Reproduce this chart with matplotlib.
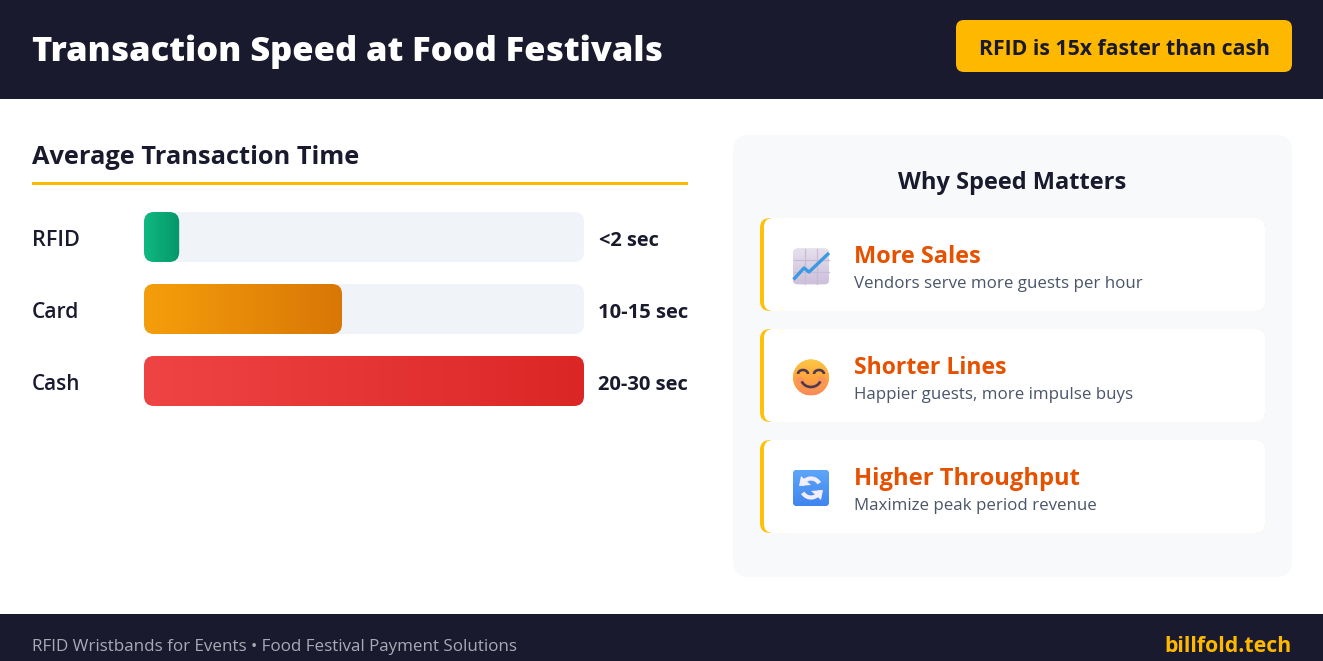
import numpy as np
import matplotlib
matplotlib.use('Agg')
import matplotlib.pyplot as plt
from matplotlib.patches import FancyBboxPatch, Rectangle, Circle, Polygon, Arc
from matplotlib.colors import LinearSegmentedColormap

W, H = 1323, 661
FONT = ['Open Sans', 'DejaVu Sans']

title = 'Transaction Speed at Food Festivals'
badge = 'RFID is 15x faster than cash'
section = 'Average Transaction Time'
side_title = 'Why Speed Matters'
footer_left = 'RFID Wristbands for Events • Food Festival Payment Solutions'
footer_right = 'billfold.tech'

methods = ['RFID', 'Card', 'Cash']
bar_pct = [8, 45, 100]
time_labels = ['<2 sec', '10-15 sec', '20-30 sec']
bar_colors = [('#10b981', '#059669'), ('#f59e0b', '#d97706'), ('#ef4444', '#dc2626')]

benefit_heads = ['More Sales', 'Shorter Lines', 'Higher Throughput']
benefit_subs = ['Vendors serve more guests per hour',
                'Happier guests, more impulse buys',
                'Maximize peak period revenue']

NAVY = '#1a1a2e'
AMBER = '#ffb800'
ACCENT = '#ffc107'
ORANGE = '#e65100'
TRACK = '#f0f4f8'
PANEL = '#f8f9fa'
SUB = '#4a5568'

fig = plt.figure(figsize=(W / 100, H / 100), dpi=100, facecolor='white')
bg = fig.add_axes([0, 0, 1, 1])
bg.set_xlim(0, W)
bg.set_ylim(H, 0)
bg.axis('off')


def rbox(ax, x0, y0, x1, y1, r, color, z=1, aspect=1, **kw):
    p = FancyBboxPatch((x0, y0), x1 - x0, y1 - y0,
                       boxstyle=f'round,pad=0,rounding_size={r}',
                       mutation_aspect=aspect, fc=color, ec='none', zorder=z, **kw)
    ax.add_patch(p)
    return p


renderer = fig.canvas.get_renderer()


def label(x, y, s, width, color, weight=400, ha='left', size=20, z=10):
    t = bg.text(x, y, s, color=color, fontweight=weight, family=FONT, ha=ha, va='baseline',
                fontsize=size, zorder=z)
    w = t.get_window_extent(renderer).width
    t.set_fontsize(size * width / w)
    return t


# header and footer
bg.add_patch(Rectangle((0, 0), W, 99, fc=NAVY, ec='none'))
bg.add_patch(Rectangle((0, 614), W, 47, fc=NAVY, ec='none'))
label(31.5, 61, title, 630.5, 'white', 800)
rbox(bg, 956, 20, 1292, 72, 8, AMBER, 2)
label(979, 55, badge, 291, NAVY, 700)
label(32, 651, footer_left, 484, '#a8abb5')
label(1292, 652, footer_right, 127, AMBER, 700, ha='right')

# left section
label(32, 164, section, 327, NAVY, 700)
bg.add_patch(Rectangle((32, 182), 656, 3, fc=AMBER, ec='none'))

# bars: own axes, x is percent of the track
ax = fig.add_axes([144 / W, 1 - 406 / H, 440 / W, (406 - 212) / H])
bar_h = 50 / 72
ylim = (2.0 + 25 / 72, -25 / 72)
ax.axis('off')
ax.patch.set_alpha(0)
xpx = 440 / 100
asp = xpx / 72
r_x = 10 / xpx
method_w = [48, 47, 48]
time_x = [(659, 60), (688, 90), (688, 90)]
for i, (m, v, tl, (c0, c1)) in enumerate(zip(methods, bar_pct, time_labels, bar_colors)):
    rbox(ax, 0, i - bar_h / 2, 100, i + bar_h / 2, r_x, TRACK, 1, aspect=asp)
    clip = rbox(ax, 0, i - bar_h / 2, v, i + bar_h / 2, r_x, 'none', 3, aspect=asp)
    cmap = LinearSegmentedColormap.from_list(m, [c0, c1])
    im = ax.imshow(np.linspace(0, 1, 256)[None, :], extent=(0, v, i + bar_h / 2, i - bar_h / 2),
                   cmap=cmap, aspect='auto', zorder=3, interpolation='bilinear')
    im.set_clip_path(clip)
    py = 237 + 72 * i
    label(32, py + 9, m, method_w[i], NAVY, 600)
    label(time_x[i][0], py + 8.5, tl, time_x[i][1], NAVY, 700, ha='right')
ax.set_xlim(0, 100)
ax.set_ylim(*ylim)

# right panel
rbox(bg, 733, 135, 1292, 577, 16, PANEL, 1)
label(1012.5, 189, side_title, 229, NAVY, 700, ha='center')
tops = [218, 329, 440]
sub_y = [69.5, 70, 69.5]
for top, head, sub, hw, sw, sy in zip(tops, benefit_heads, benefit_subs, [127, 153, 226], [286, 278, 242.5], sub_y):
    rbox(bg, 760, top, 1265, top + 93, 10, ACCENT, 2)
    rbox(bg, 764, top, 1265, top + 93, 9, 'white', 3)
    label(854, top + 45, head, hw, ORANGE, 700)
    label(854, top + sy, sub, sw, SUB)

# icon 1: chart
Z = 5
p = rbox(bg, 793, 248.5, 829, 284.5, 5, '#dcd3e6', Z)
grad = LinearSegmentedColormap.from_list('g', ['#e6e0ec', '#cdc0dc'])
im = bg.imshow(np.linspace(0, 1, 64)[:, None], extent=(793, 829, 284.5, 248.5), cmap=grad,
               aspect='auto', zorder=Z, interpolation='bilinear')
im.set_clip_path(p)
for g in [805, 817]:
    bg.plot([g, g], [249, 284], color='#c8bcd4', lw=0.9, zorder=Z + 1)
for g in [260, 272]:
    bg.plot([793.5, 828.5], [g, g], color='#c8bcd4', lw=0.9, zorder=Z + 1)
bg.plot([793.5, 804, 809, 829], [279.5, 268, 272, 253], color='#3b9ae1', lw=2.4, zorder=Z + 2,
        solid_capstyle='butt', solid_joinstyle='round')

# icon 2: smile
cy = 377.5
face = Circle((811, cy), 18, fc='#ffb347', ec='none', zorder=Z)
bg.add_patch(face)
grad2 = LinearSegmentedColormap.from_list('s', ['#ffc845', '#ffa63e', '#f98a5c'])
im = bg.imshow(np.linspace(0, 1, 64)[:, None], extent=(793, 829, cy + 18, cy - 18), cmap=grad2,
               aspect='auto', zorder=Z, interpolation='bilinear')
im.set_clip_path(face)
for cx in (800, 822):
    bg.add_patch(Circle((cx, cy + 3), 4, fc='#f98a70', ec='none', alpha=0.55, zorder=Z + 1))
for cx in (803, 819):
    bg.add_patch(Arc((cx, cy - 3.5), 10, 8, theta1=180, theta2=360, color='#4e3a4e', lw=1.9, zorder=Z + 2))
bg.add_patch(Arc((811, cy + 0.5), 20, 18, theta1=20, theta2=160, color='#4e3a4e', lw=1.9, zorder=Z + 2))

# icon 3: refresh
p = rbox(bg, 793, 470, 829, 506, 4, '#4f96f5', Z)
grad3 = LinearSegmentedColormap.from_list('b', ['#5ea6f8', '#3f85ef'])
im = bg.imshow(np.linspace(0, 1, 64)[:, None], extent=(793, 829, 506, 470), cmap=grad3,
               aspect='auto', zorder=Z, interpolation='bilinear')
im.set_clip_path(p)
ICON = '#f3eefc'
bg.add_patch(Arc((811, 488), 19, 19, theta1=195, theta2=330, color=ICON, lw=3.0, zorder=Z + 1))
bg.add_patch(Arc((811, 488), 19, 19, theta1=15, theta2=150, color=ICON, lw=3.0, zorder=Z + 1))
bg.add_patch(Polygon([[801, 476], [811, 485], [799, 486]], fc=ICON, ec='none', zorder=Z + 2))
bg.add_patch(Polygon([[821, 500], [811, 491], [823, 490]], fc=ICON, ec='none', zorder=Z + 2))

bg.set_xlim(0, W)
bg.set_ylim(H, 0)
fig.savefig('out.png', dpi=100, facecolor='white')
